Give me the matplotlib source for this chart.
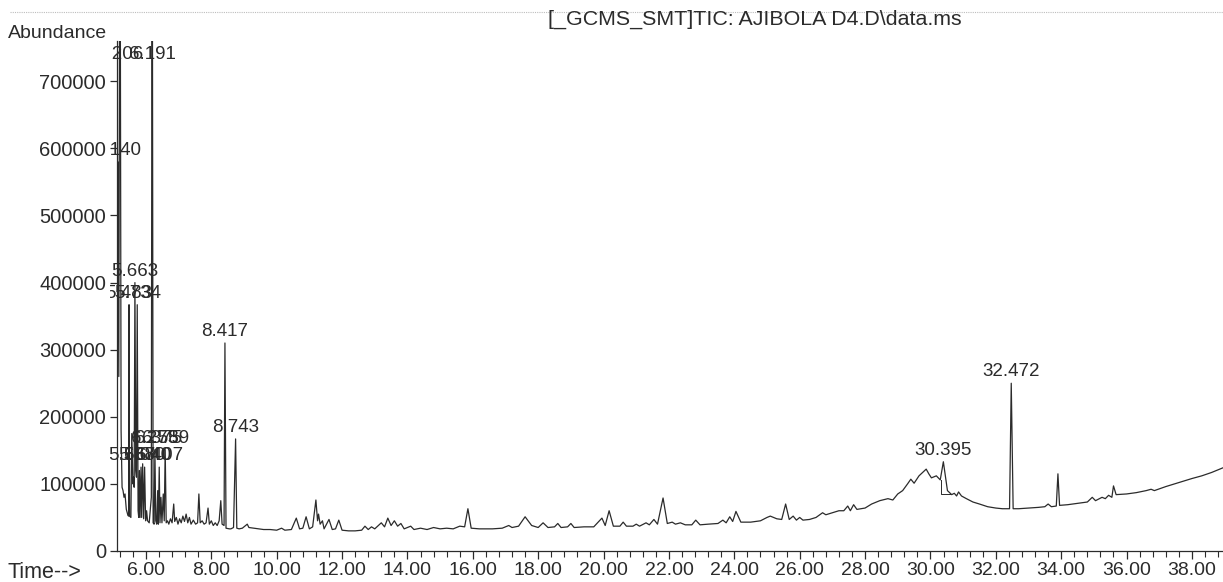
"""GC-MS total ion chromatogram (TIC) redrawn from a scanned ChemStation printout."""

import matplotlib

matplotlib.use("Agg")
import matplotlib.pyplot as plt
from matplotlib.lines import Line2D
from matplotlib.ticker import FuncFormatter, MultipleLocator
from matplotlib.transforms import Bbox, TransformedBbox

# trace vertices (retention time in min, abundance)
time_min = [
    5.12, 5.14, 5.17, 5.206, 5.24, 5.27, 5.30, 5.33, 5.36, 5.40, 5.45, 5.47,
    5.483, 5.50, 5.54, 5.567, 5.60, 5.62, 5.64, 5.663, 5.69, 5.71, 5.734, 5.76,
    5.78, 5.80, 5.82, 5.85, 5.87, 5.90, 5.93, 5.96, 5.99, 6.02, 6.05, 6.10,
    6.165, 6.191, 6.22, 6.25, 6.275, 6.30, 6.33, 6.36, 6.38, 6.407, 6.43, 6.46,
    6.49, 6.53, 6.56, 6.589, 6.62, 6.66, 6.70, 6.75, 6.80, 6.85, 6.88, 6.93,
    6.98, 7.03, 7.08, 7.13, 7.18, 7.23, 7.28, 7.33, 7.38, 7.45, 7.52, 7.58,
    7.62, 7.66, 7.72, 7.78, 7.84, 7.90, 7.94, 8.00, 8.06, 8.12, 8.18, 8.24,
    8.29, 8.33, 8.39, 8.417, 8.45, 8.55, 8.60, 8.68, 8.743, 8.78, 8.85, 8.95,
    9.05, 9.10, 9.15, 9.30, 9.45, 9.60, 9.80, 10.0, 10.15, 10.25, 10.45, 10.6,
    10.7, 10.8, 10.9, 11.0, 11.1, 11.2, 11.25, 11.28, 11.33, 11.4, 11.45, 11.6,
    11.7, 11.8, 11.9, 12.0, 12.2, 12.4, 12.6, 12.7, 12.8, 12.9, 13.0, 13.2,
    13.3, 13.4, 13.5, 13.6, 13.7, 13.8, 13.9, 14.1, 14.2, 14.4, 14.6, 14.8,
    15.0, 15.2, 15.4, 15.6, 15.75, 15.85, 15.95, 16.2, 16.6, 16.9, 17.1, 17.2,
    17.4, 17.6, 17.8, 18.0, 18.15, 18.3, 18.5, 18.6, 18.7, 18.9, 19.0, 19.1,
    19.4, 19.7, 19.95, 20.05, 20.17, 20.3, 20.5, 20.6, 20.7, 20.9, 21.0, 21.1,
    21.3, 21.4, 21.54, 21.65, 21.82, 21.95, 22.1, 22.2, 22.35, 22.5, 22.7, 22.82,
    22.95, 23.2, 23.5, 23.65, 23.75, 23.86, 23.95, 24.05, 24.2, 24.5, 24.8, 25.0,
    25.1, 25.3, 25.45, 25.57, 25.68, 25.8, 25.9, 26.0, 26.1, 26.3, 26.5, 26.7,
    26.8, 27.0, 27.2, 27.35, 27.47, 27.55, 27.65, 27.75, 28.0, 28.2, 28.45, 28.7,
    28.85, 29.0, 29.15, 29.3, 29.4, 29.5, 29.65, 29.76, 29.87, 29.95, 30.03, 30.18,
    30.3, 30.395, 30.52, 30.65, 30.73, 30.8, 30.86, 30.95, 31.1, 31.3, 31.5, 31.75,
    32.0, 32.2, 32.42, 32.472, 32.53, 32.7, 33.0, 33.3, 33.5, 33.6, 33.7, 33.85,
    33.9, 33.95, 34.2, 34.5, 34.8, 34.95, 35.05, 35.25, 35.35, 35.45, 35.55, 35.6,
    35.68, 36.0, 36.3, 36.6, 36.75, 36.85, 37.2, 37.6, 38.0, 38.3, 38.6, 38.95,
]
abundance = [
    520000, 580000, 260000, 1100000, 180000, 95000, 90000, 80000, 85000, 62000, 53000, 52000,
    367000, 52000, 50000, 175000, 100000, 110000, 95000, 400000, 120000, 110000, 367000, 60000,
    50000, 120000, 50000, 125000, 50000, 130000, 48000, 125000, 45000, 60000, 45000, 42000,
    80000, 1100000, 42000, 40000, 151000, 45000, 40000, 90000, 40000, 125000, 42000, 80000,
    42000, 85000, 45000, 151000, 42000, 45000, 40000, 48000, 42000, 70000, 44000, 50000,
    40000, 48000, 42000, 52000, 44000, 55000, 42000, 50000, 40000, 46000, 40000, 42000,
    85000, 42000, 45000, 40000, 42000, 64000, 40000, 45000, 38000, 42000, 38000, 45000,
    75000, 40000, 38000, 310000, 34000, 33000, 33000, 35000, 167000, 34000, 33000, 34000,
    38000, 40000, 35000, 34000, 33000, 32000, 32000, 31000, 34000, 31000, 32000, 49000,
    33000, 34000, 51000, 33000, 36000, 76000, 45000, 55000, 40000, 45000, 33000, 47000,
    32000, 33000, 46000, 31000, 30000, 30000, 31000, 37000, 32000, 36000, 33000, 42000,
    36000, 49000, 38000, 45000, 37000, 41000, 33000, 37000, 32000, 34000, 32000, 35000,
    33000, 34000, 33000, 37000, 36000, 63000, 34000, 33000, 33000, 34000, 38000, 35000,
    37000, 51000, 38000, 35000, 42000, 35000, 36000, 41000, 35000, 36000, 41000, 35000,
    36000, 36000, 49000, 38000, 60000, 37000, 37000, 43000, 37000, 37000, 40000, 37000,
    42000, 39000, 47000, 40000, 79000, 41000, 43000, 40000, 42000, 39000, 39000, 46000,
    39000, 40000, 41000, 46000, 42000, 51000, 44000, 59000, 43000, 43000, 45000, 50000,
    52000, 48000, 47000, 70000, 47000, 52000, 46000, 50000, 46000, 47000, 50000, 57000,
    54000, 57000, 60000, 60000, 67000, 60000, 69000, 62000, 64000, 70000, 75000, 78000,
    76000, 85000, 90000, 100000, 107000, 101000, 112000, 117000, 122000, 115000, 109000, 112000,
    106000, 133000, 90000, 84000, 86000, 82000, 88000, 82000, 78000, 73000, 70000, 66000,
    64000, 63000, 63000, 250000, 63000, 63000, 64000, 65000, 66000, 70000, 66000, 67000,
    115000, 68000, 69000, 71000, 73000, 80000, 75000, 80000, 78000, 83000, 80000, 97000,
    84000, 85000, 87000, 90000, 92000, 90000, 96000, 102000, 108000, 112000, 117000, 124000,
]

# integrated peaks with their printed retention-time labels
peak_labels = [
    "5.140", "5.206", "6.191", "5.663", "5.483", "5.734",
    "5.567", "5.880", "6.040", "6.407", "6.275", "6.375", "6.589",
    "8.417", "8.743", "30.395", "32.472",
]
peak_times = [
    5.140, 5.206, 6.191, 5.663, 5.483, 5.734,
    5.567, 5.880, 6.040, 6.407, 6.275, 6.375, 6.589,
    8.417, 8.743, 30.395, 32.472,
]
peak_tops = [
    580000, 1100000, 1100000, 400000, 367000, 367000,
    125000, 125000, 125000, 125000, 151000, 151000, 151000,
    310000, 167000, 133000, 250000,
]

y_ticks = [0, 100000, 200000, 300000, 400000, 500000, 600000, 700000]

INK = "#2b2b2b"
W, H = 1223, 582

plt.rcParams["font.family"] = ["Liberation Sans", "DejaVu Sans"]

fig = plt.figure(figsize=(W / 100, H / 100), dpi=100)
ax = fig.add_axes((117 / W, 1 - 551 / H, 1 - 117 / W, (551 - 41) / H))

ax.plot(time_min, abundance, color=INK, linewidth=0.9)
# integration baseline under the 30.395 peak
ax.plot([30.33, 30.33, 30.62], [106000, 85000, 85000], color=INK, linewidth=0.7)

ax.set_xlim(5.115, 38.95)
ax.set_ylim(0, 760000)

# labels of the first peaks run under the y tick labels, so hide what sticks out left
label_clip = TransformedBbox(Bbox([[110 / W, 0], [1, 1]]), fig.transFigure)
label_cap = 723000
for text, t, top in zip(peak_labels, peak_times, peak_tops):
    note = ax.annotate(
        text,
        (t, min(top, label_cap)),
        xytext=(0, 2),
        textcoords="offset points",
        ha="center",
        va="bottom",
        fontsize=13.5,
        color=INK,
        annotation_clip=False,
    )
    note.set_clip_box(label_clip)
    note.set_clip_on(True)

for side in ("top", "right"):
    ax.spines[side].set_visible(False)
for side in ("left", "bottom"):
    ax.spines[side].set_color(INK)
    ax.spines[side].set_linewidth(0.9)

ax.xaxis.set_major_locator(MultipleLocator(2))
ax.xaxis.set_minor_locator(MultipleLocator(0.4))
ax.xaxis.set_major_formatter(FuncFormatter(lambda v, _: f"{v:.2f}"))
ax.set_yticks(y_ticks)
ax.yaxis.set_major_formatter(FuncFormatter(lambda v, _: f"{v:.0f}"))
ax.tick_params(axis="x", which="major", length=6, width=0.9, pad=2,
               labelsize=14, colors=INK)
ax.tick_params(axis="x", which="minor", length=4, width=0.8, colors=INK)
ax.tick_params(axis="y", which="major", length=5, width=0.9, pad=3,
               labelsize=14.5, colors=INK)

fig.text(8 / W, 1 - 33 / H, "Abundance", fontsize=14, color=INK,
         ha="left", va="center")
fig.text(8 / W, 1 - 573 / H, "Time-->", fontsize=15.5, color=INK,
         ha="left", va="center")
fig.text(755 / W, 1 - 19 / H, "[_GCMS_SMT]TIC: AJIBOLA D4.D\\data.ms",
         fontsize=15.4, color=INK, ha="center", va="center")
fig.add_artist(Line2D([10 / W, 1], [1 - 12 / H, 1 - 12 / H], color="#bdbdbd",
                      linewidth=0.8, linestyle=(0, (1, 1))))

fig.savefig("out.png", dpi=100, facecolor="white")
